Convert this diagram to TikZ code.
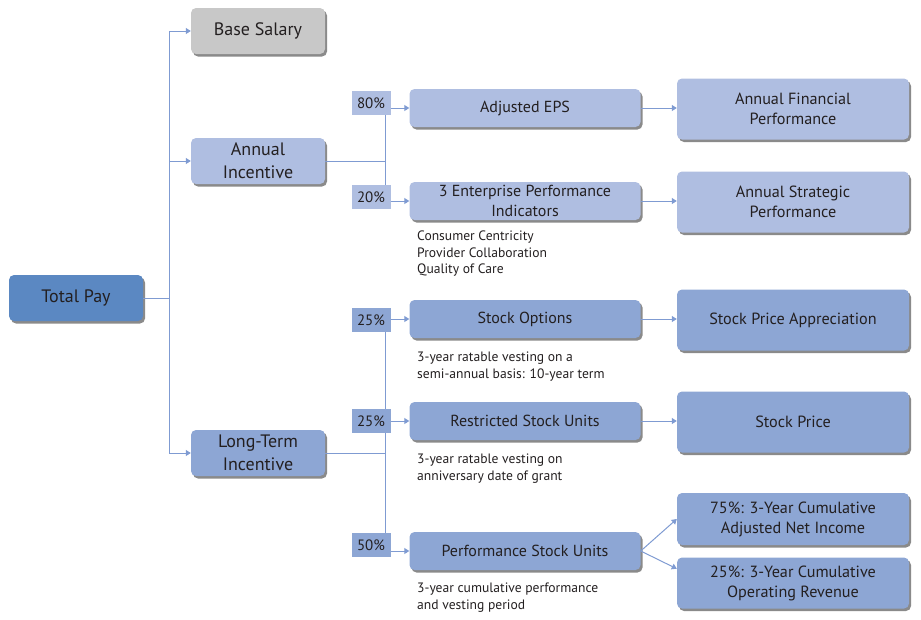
\documentclass[tikz,border=0pt]{standalone}
\usepackage{fontspec}
\setmainfont{PT Sans}
\usetikzlibrary{arrows.meta}
\usetikzlibrary{shadows}

\definecolor{paydark}{HTML}{5B88C2}
\definecolor{paylight}{HTML}{AFBEE1}
\definecolor{paymid}{HTML}{8DA6D4}
\definecolor{paygray}{HTML}{C8C8C8}
\definecolor{payline}{HTML}{7F9BD2}
\definecolor{payshadow}{HTML}{8A8A8A}
\definecolor{paytext}{HTML}{231F20}

\begin{document}
\begin{tikzpicture}[x=1pt, y=-1pt,
	box/.style={rounded corners=5pt, text=paytext, align=center, inner sep=0pt,
		drop shadow={shadow xshift=2pt, shadow yshift=-2.5pt, fill=payshadow, opacity=1}},
	topbox/.style={box, minimum width=134pt, minimum height=46pt, font=\fontsize{18}{23}\selectfont},
	midbox/.style={box, minimum width=231pt, minimum height=38pt, font=\fontsize{16}{19.5}\selectfont},
	endbox/.style={box, minimum width=232pt, font=\fontsize{16.2}{20}\selectfont},
	pct/.style={minimum width=39pt, minimum height=24pt, inner sep=0pt, text=paytext, font=\fontsize{15}{17}\selectfont},
	note/.style={anchor=north west, align=left, inner sep=0pt, text=paytext, font=\fontsize{13.6}{16.5}\selectfont},
	link/.style={draw=payline, line width=1pt},
	arr/.style={link, -{Triangle[length=5pt, width=6pt]}}
	]
	\useasboundingbox (0,0) rectangle (921,619);

	\node[topbox, fill=paygray] (base) at (258,31) {Base Salary};
	\node[topbox, fill=paylight] (annual) at (258,161) {Annual\\Incentive};
	\node[topbox, fill=paydark] (total) at (76,298) {Total Pay};
	\node[topbox, fill=paymid] (lti) at (258,453) {Long-Term\\Incentive};

	\node[pct, fill=paylight] (p80) at (371,103) {80\%};
	\node[pct, fill=paylight] (p20) at (371,197) {20\%};
	\node[pct, fill=paymid] (p25a) at (371,320) {25\%};
	\node[pct, fill=paymid] (p25b) at (371,421) {25\%};
	\node[pct, fill=paymid] (p50) at (371,545) {50\%};

	\node[midbox, fill=paylight] (eps) at (525,108) {Adjusted EPS};
	\node[midbox, fill=paylight] (epi) at (525,201) {3 Enterprise Performance\\Indicators};
	\node[midbox, fill=paymid] (so) at (525,319) {Stock Options};
	\node[midbox, fill=paymid] (rsu) at (525,421) {Restricted Stock Units};
	\node[midbox, fill=paymid] (psu) at (525,551) {Performance Stock Units};

	\node[endbox, fill=paylight, minimum height=61pt] (afp) at (793,109) {Annual Financial\\Performance};
	\node[endbox, fill=paylight, minimum height=61pt] (asp) at (793,202) {Annual Strategic\\Performance};
	\node[endbox, fill=paymid, minimum height=61pt] (spa) at (793,320) {Stock Price Appreciation};
	\node[endbox, fill=paymid, minimum height=61pt] (sp) at (793,422) {Stock Price};
	\node[endbox, fill=paymid, minimum height=52pt] (ani) at (793,519) {75\%: 3-Year Cumulative\\Adjusted Net Income};
	\node[endbox, fill=paymid, minimum height=51pt] (rev) at (793,583) {25\%: 3-Year Cumulative\\Operating Revenue};

	\node[note] (epinote) at (417,231) {Consumer Centricity\\Provider Collaboration\\Quality of Care};
	\node[note] (sonote) at (417,352) {3-year ratable vesting on a\\semi-annual basis: 10-year term};
	\node[note] (rsunote) at (417,454) {3-year ratable vesting on\\anniversary date of grant};
	\node[note] (psunote) at (417,583) {3-year cumulative performance\\and vesting period};

	\coordinate (tj) at (169,298);
	\coordinate (aj) at (385,161);
	\coordinate (lj) at (385,453);

	\draw[link] (total.east) -- (tj);
	\draw[arr] (tj) |- (base);
	\draw[arr] (tj) |- (annual);
	\draw[arr] (tj) |- (lti);

	\draw[link] (annual.east) -- (aj);
	\draw[link] (aj |- p80.south) -- (aj |- p20.north);
	\draw[link] (lti.east) -- (lj);
	\draw[link] (lj |- p25a.south) -- (lj |- p25b.north);
	\draw[link] (lj |- p25b.south) -- (lj |- p50.north);

	\draw[arr] (p80.east |- eps) -- (eps);
	\draw[arr] (p20.east |- epi) -- (epi);
	\draw[arr] (p25a.east |- so) -- (so);
	\draw[arr] (p25b.east |- rsu) -- (rsu);
	\draw[arr] (p50.east |- psu) -- (psu);

	\draw[arr] (eps.east) -- (eps.east -| afp.west);
	\draw[arr] (epi.east) -- (epi.east -| asp.west);
	\draw[arr] (so.east) -- (so.east -| spa.west);
	\draw[arr] (rsu.east) -- (rsu.east -| sp.west);
	\draw[arr] (psu.east) -- (ani.west);
	\draw[arr] (psu.east) -- (rev.173);
\end{tikzpicture}
\end{document}
